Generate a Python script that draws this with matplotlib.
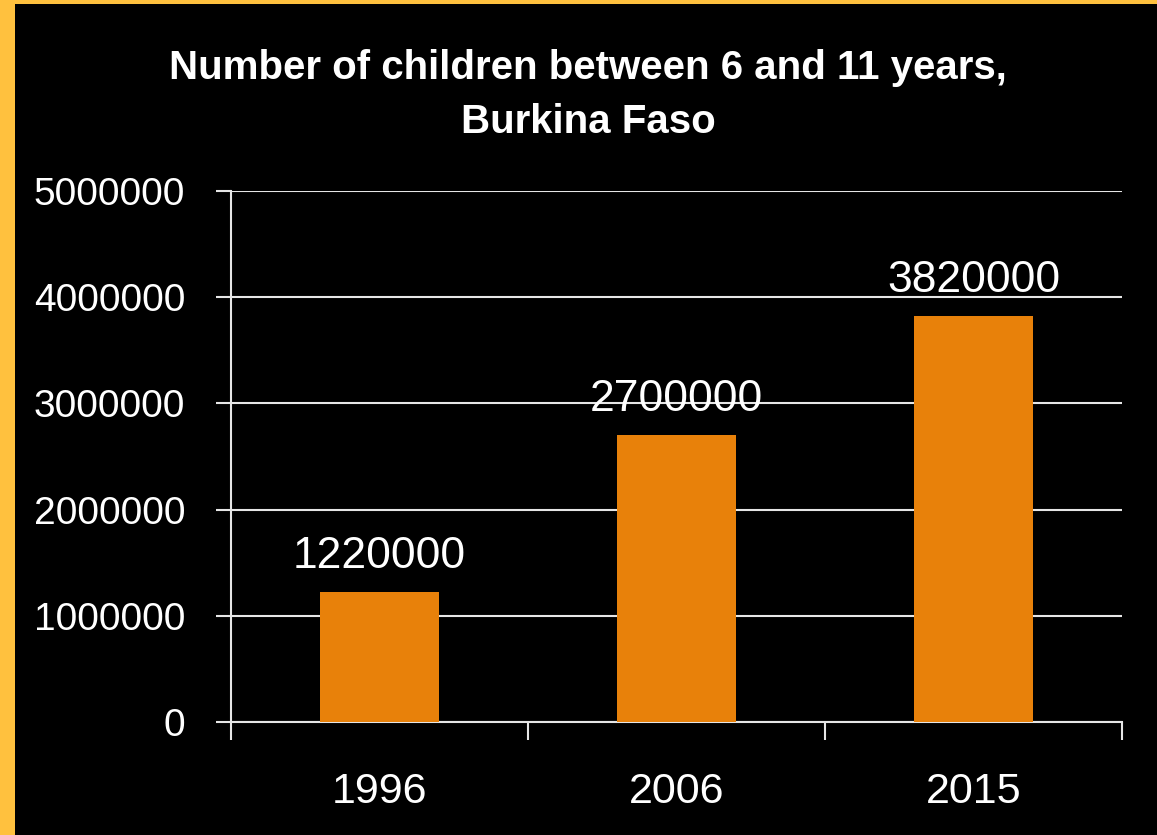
import matplotlib
matplotlib.use("Agg")
import matplotlib.pyplot as plt
from matplotlib.patches import Rectangle
import numpy as np

years = ["1996", "2006", "2015"]
children = [1220000, 2700000, 3820000]
y_ticks = [0, 1000000, 2000000, 3000000, 4000000, 5000000]

plt.rcParams['font.family'] = ['Liberation Sans', 'DejaVu Sans']

fig = plt.figure(figsize=(11.57, 8.35), dpi=100)
fig.patch.set_facecolor('#FFC13E')
# black panel inside the yellow frame
fig.patches.append(Rectangle((15/1157, 0), 1 - 15/1157, 1 - 4/835,
                             transform=fig.transFigure, facecolor='black',
                             edgecolor='none', zorder=-10))

ax = fig.add_axes([231/1157, 113/835, (1122-231)/1157, (722-191)/835])
ax.set_facecolor('none')

x = np.arange(len(years))
bars = ax.bar(x, children, width=0.4, color='#E8810A', zorder=3)

for xi, v in zip(x, children):
    ax.annotate(f"{v}", (xi, v), xytext=(0, 11), textcoords='offset points',
                ha='center', va='bottom', color='white', fontsize=32)

ax.set_xlim(-0.5, len(years) - 0.5)
ax.set_ylim(0, 5000000)
ax.set_yticks(y_ticks)
ax.set_yticklabels([str(t) for t in y_ticks])
ax.set_xticks(x)
ax.set_xticklabels(years)
ax.set_xticks(np.arange(len(years) + 1) - 0.5, minor=True)

ax.yaxis.grid(True, color='#E6E6E6', linewidth=1.5, zorder=1)
ax.set_axisbelow(True)

for s in ['top', 'right']:
    ax.spines[s].set_visible(False)
for s in ['left', 'bottom']:
    ax.spines[s].set_color('#E6E6E6')
    ax.spines[s].set_linewidth(1.5)

ax.tick_params(axis='y', which='major', colors='#E6E6E6', length=11, width=1.5,
               pad=22, labelsize=28, labelcolor='white')
ax.tick_params(axis='x', which='major', length=0, pad=36, labelsize=31,
               labelcolor='white')
ax.tick_params(axis='x', which='minor', colors='#E6E6E6', length=13, width=1.5)

fig.text(588/1157, 1 - 95/835, "Number of children between 6 and 11 years,\nBurkina Faso",
         ha='center', va='center', color='white', fontsize=29,
         fontweight='bold', linespacing=1.55)

fig.savefig('out.png', dpi=100, facecolor=fig.get_facecolor())
